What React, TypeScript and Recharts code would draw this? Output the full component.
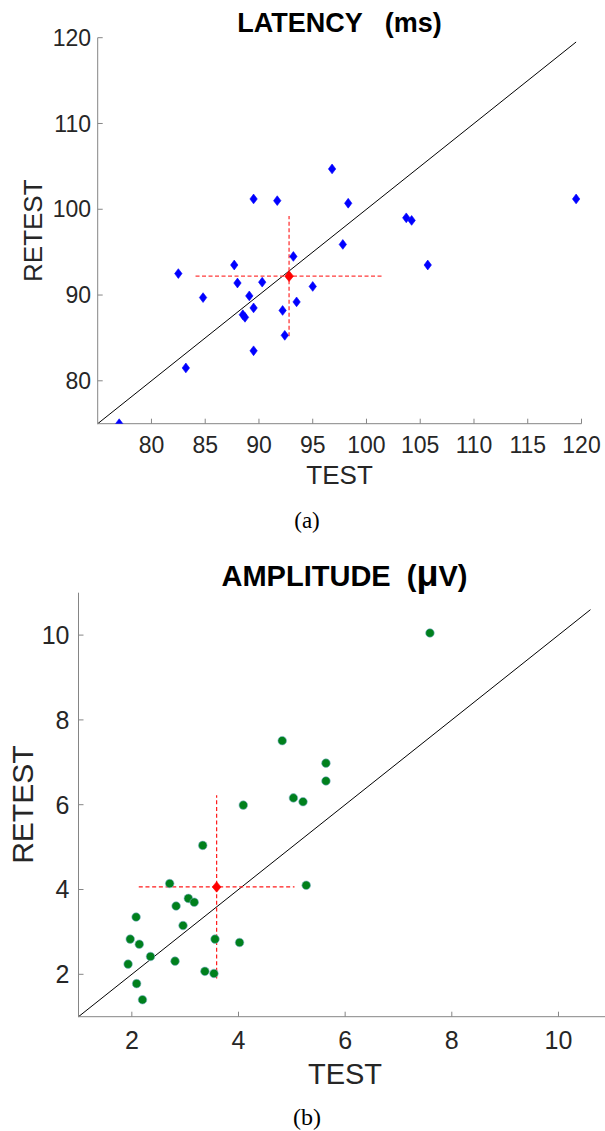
import { ScatterChart, Scatter, XAxis, YAxis, ReferenceLine } from 'recharts'

// latency (ms) - test vs retest
const latencyTest = [
    77.0, 82.5, 83.2, 84.8, 87.7, 88.0, 89.1, 88.5, 88.7, 89.5, 89.5, 89.5, 90.3,
    91.7, 92.2, 92.4, 93.2, 93.5, 95.0, 96.8, 97.8, 98.3, 103.7, 104.2, 105.7, 119.5,
]
const latencyRetest = [
    75.0, 92.5, 81.5, 89.7, 93.5, 91.4, 89.9, 87.7, 87.4, 88.5, 101.2, 83.5, 91.5,
    101.0, 88.2, 85.3, 94.5, 89.2, 91.0, 104.7, 95.9, 100.7, 99.0, 98.7, 93.5, 101.2,
]
const latencyMean = [92.8, 92.2]
const latencySD = [8.7, 7.0]
const latencyTicks = [80, 85, 90, 95, 100, 105, 110, 115, 120]
const latencyYTicks = [80, 90, 100, 110, 120]
const latencyDomain = [75, 120]
const latencyDiagonal = [75, 119.5]

// amplitude (uV) - test vs retest
const amplitudeTest = [
    5.64, 5.64, 5.03, 5.21, 4.09, 3.33, 2.71, 5.27, 3.06, 3.17, 2.83, 2.08, 2.96,
    1.97, 3.56, 2.14, 4.02, 2.35, 1.93, 2.81, 3.37, 3.54, 2.09, 2.2, 4.82, 7.59,
]
const amplitudeRetest = [
    6.98, 6.56, 6.16, 6.07, 5.99, 5.04, 4.14, 4.1, 3.79, 3.7, 3.61, 3.35, 3.15,
    2.83, 2.83, 2.71, 2.75, 2.42, 2.24, 2.31, 2.07, 2.02, 1.78, 1.4, 7.51, 10.05,
]
const amplitudeMean = [3.59, 4.06]
const amplitudeSD = [1.46, 2.16]
const amplitudeTicks = [2, 4, 6, 8, 10]
const amplitudeDomain = [1, 11]
const amplitudeDiagonal = [1, 10.6]

const latencyData = latencyTest.map((t, i) => ({ test: t, retest: latencyRetest[i] }))
const amplitudeData = amplitudeTest.map((t, i) => ({ test: t, retest: amplitudeRetest[i] }))

const AXIS = '#858585'
const TEXT = '#262626'
const FONT = '"Liberation Sans", Arial, Helvetica, sans-serif'

function Diamond(props: any) {
    const { cx, cy, fill, w = 3.7, h = 4.9 } = props
    if (cx == null || cy == null) return null
    return (
        <polygon
            points={`${cx},${cy - h} ${cx + w},${cy} ${cx},${cy + h} ${cx - w},${cy}`}
            fill={fill}
            stroke={fill}
            strokeWidth={0.6}
        />
    )
}

function Dot(props: any) {
    const { cx, cy } = props
    if (cx == null || cy == null) return null
    return <circle cx={cx} cy={cy} r={4.3} fill="#00801c" stroke="#7fb3d0" strokeWidth={0.6} />
}

export default function App() {
    const latMean = [{ test: latencyMean[0], retest: latencyMean[1] }]
    const ampMean = [{ test: amplitudeMean[0], retest: amplitudeMean[1] }]

    return (
        <div
            style={{
                position: 'absolute',
                left: 0,
                top: 0,
                width: 605,
                height: 1131,
                overflow: 'hidden',
                background: '#fff',
                fontFamily: FONT,
            }}
        >
            <div style={{ position: 'absolute', left: 0, top: 0 }}>
                <ScatterChart
                    width={605}
                    height={500}
                    margin={{ top: 37.7, right: 23.5, bottom: 46.3, left: 37.7 }}
                >
                    <XAxis
                        type="number"
                        dataKey="test"
                        domain={latencyDomain}
                        ticks={latencyTicks}
                        allowDataOverflow
                        height={30}
                        tickSize={-5}
                        tickMargin={18.3}
                        axisLine={{ stroke: AXIS }}
                        tickLine={{ stroke: AXIS }}
                        tick={{ fill: TEXT, fontSize: 23, fontFamily: FONT }}
                    />
                    <YAxis
                        type="number"
                        dataKey="retest"
                        domain={latencyDomain}
                        ticks={latencyYTicks}
                        allowDataOverflow
                        width={60}
                        tickSize={-5}
                        tickMargin={11.7}
                        axisLine={{ stroke: AXIS }}
                        tickLine={{ stroke: AXIS }}
                        tick={{ fill: TEXT, fontSize: 23, fontFamily: FONT }}
                    />
                    <ReferenceLine
                        segment={[
                            { x: latencyDiagonal[0], y: latencyDiagonal[0] },
                            { x: latencyDiagonal[1], y: latencyDiagonal[1] },
                        ]}
                        stroke="#000"
                        strokeWidth={1}
                    />
                    <Scatter
                        data={latencyData}
                        fill="#0000ff"
                        shape={(p: any) => <Diamond {...p} fill="#0000ff" />}
                        isAnimationActive={false}
                    />
                    <ReferenceLine
                        segment={[
                            { x: latencyMean[0] - latencySD[0], y: latencyMean[1] },
                            { x: latencyMean[0] + latencySD[0], y: latencyMean[1] },
                        ]}
                        stroke="#ff3a3a"
                        strokeWidth={1.3}
                        strokeDasharray="4 2.5"
                    />
                    <ReferenceLine
                        segment={[
                            { x: latencyMean[0], y: latencyMean[1] - latencySD[1] },
                            { x: latencyMean[0], y: latencyMean[1] + latencySD[1] },
                        ]}
                        stroke="#ff3a3a"
                        strokeWidth={1.3}
                        strokeDasharray="4 2.5"
                    />
                    <Scatter
                        data={latMean}
                        fill="#ff0000"
                        shape={(p: any) => <Diamond {...p} fill="#ff0000" w={4.4} h={5.4} />}
                        isAnimationActive={false}
                    />
                </ScatterChart>
            </div>

            <div style={{ position: 'absolute', left: 0, top: 530 }}>
                <ScatterChart
                    width={640}
                    height={601}
                    margin={{ top: 62.7, right: 28.2, bottom: 84.3, left: 18.5 }}
                >
                    <XAxis
                        type="number"
                        dataKey="test"
                        domain={amplitudeDomain}
                        ticks={amplitudeTicks}
                        allowDataOverflow
                        height={30}
                        tickSize={-5}
                        tickMargin={19.7}
                        axisLine={{ stroke: AXIS }}
                        tickLine={{ stroke: AXIS }}
                        tick={{ fill: TEXT, fontSize: 25, fontFamily: FONT }}
                    />
                    <YAxis
                        type="number"
                        dataKey="retest"
                        domain={amplitudeDomain}
                        ticks={amplitudeTicks}
                        allowDataOverflow
                        width={60}
                        tickSize={-5}
                        tickMargin={14}
                        axisLine={{ stroke: AXIS }}
                        tickLine={{ stroke: AXIS }}
                        tick={{ fill: TEXT, fontSize: 25, fontFamily: FONT }}
                    />
                    <ReferenceLine
                        segment={[
                            { x: amplitudeDiagonal[0], y: amplitudeDiagonal[0] },
                            { x: amplitudeDiagonal[1], y: amplitudeDiagonal[1] },
                        ]}
                        stroke="#000"
                        strokeWidth={1}
                    />
                    <Scatter
                        data={amplitudeData}
                        fill="#00801c"
                        shape={(p: any) => <Dot {...p} />}
                        isAnimationActive={false}
                    />
                    <ReferenceLine
                        segment={[
                            { x: amplitudeMean[0] - amplitudeSD[0], y: amplitudeMean[1] },
                            { x: amplitudeMean[0] + amplitudeSD[0], y: amplitudeMean[1] },
                        ]}
                        stroke="#ff1a1a"
                        strokeWidth={1.2}
                        strokeDasharray="4 2.7"
                    />
                    <ReferenceLine
                        segment={[
                            { x: amplitudeMean[0], y: amplitudeMean[1] - amplitudeSD[1] },
                            { x: amplitudeMean[0], y: amplitudeMean[1] + amplitudeSD[1] },
                        ]}
                        stroke="#ff1a1a"
                        strokeWidth={1.2}
                        strokeDasharray="4 2.7"
                    />
                    <Scatter
                        data={ampMean}
                        fill="#ff0000"
                        shape={(p: any) => <Diamond {...p} fill="#ff0000" w={4.4} h={5.2} />}
                        isAnimationActive={false}
                    />
                </ScatterChart>
            </div>

            {/* titles, axis labels and captions */}
            <svg
                width={605}
                height={1131}
                style={{ position: 'absolute', left: 0, top: 0, pointerEvents: 'none' }}
            >
                <g fontFamily={FONT} fill={TEXT}>
                    <text x={339.6} y={32} textAnchor="middle" fontSize={27} fontWeight="bold" fill="#000" style={{ whiteSpace: 'pre' }}>
                        LATENCY   (ms)
                    </text>
                    <text x={339.6} y={484} textAnchor="middle" fontSize={26}>
                        TEST
                    </text>
                    <text x={42} y={230.7} textAnchor="middle" fontSize={26} transform="rotate(-90 42 230.7)">
                        RETEST
                    </text>

                    <text x={344.5} y={585.7} textAnchor="middle" fontSize={29} fontWeight="bold" fill="#000" style={{ whiteSpace: 'pre' }}>
                        AMPLITUDE  (<tspan fontSize={36}>μ</tspan>V)
                    </text>
                    <text x={345} y={1084} textAnchor="middle" fontSize={29}>
                        TEST
                    </text>
                    <text x={33} y={804.7} textAnchor="middle" fontSize={30} transform="rotate(-90 33 804.7)">
                        RETEST
                    </text>
                </g>
                <g fontFamily='"Liberation Serif", "Times New Roman", serif' fill="#000">
                    <text x={307} y={528} textAnchor="middle" fontSize={23}>
                        (a)
                    </text>
                    <text x={307} y={1125} textAnchor="middle" fontSize={24}>
                        (b)
                    </text>
                </g>
            </svg>
        </div>
    )
}
